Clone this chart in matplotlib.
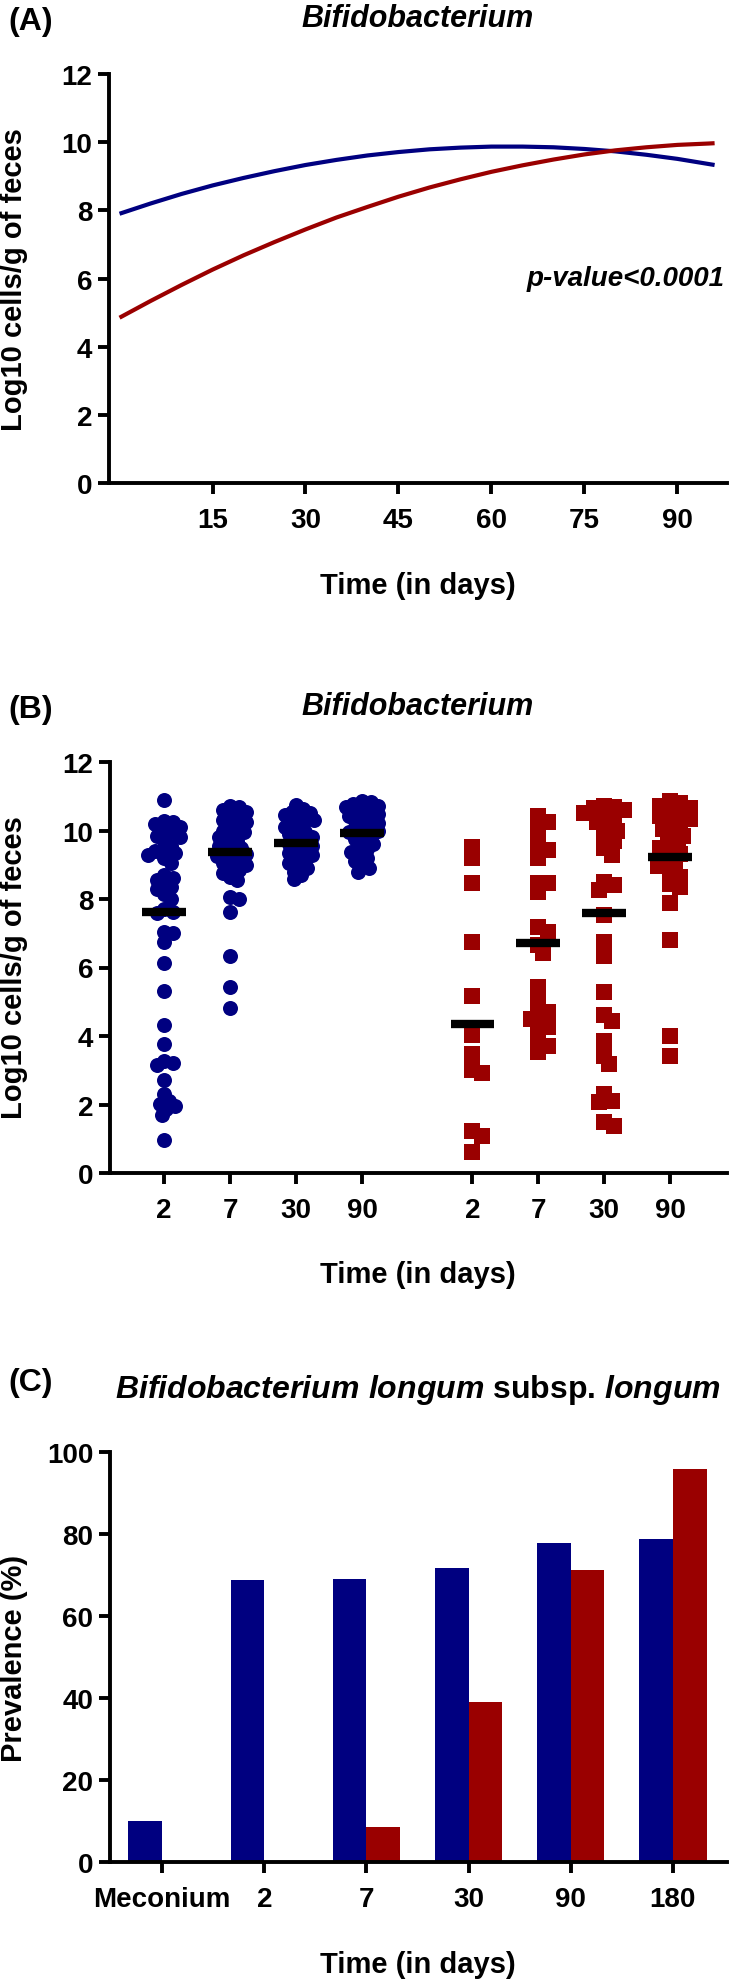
import numpy as np
import matplotlib
matplotlib.use('Agg')
import matplotlib.pyplot as plt

plt.rcParams['font.family'] = ['Liberation Sans', 'DejaVu Sans']
plt.rcParams['font.weight'] = 'bold'
plt.rcParams['mathtext.fontset'] = 'custom'
plt.rcParams['mathtext.it'] = 'Liberation Sans:italic:bold'
plt.rcParams['mathtext.rm'] = 'Liberation Sans:bold'
plt.rcParams['mathtext.bf'] = 'Liberation Sans:bold'

BLUE = '#000080'
RED = '#9A0000'

# ---- Panel A: fitted curves ----
fit_days = [0, 5, 10, 15, 20, 25, 30, 35, 40, 45, 50, 55, 60, 65, 70, 75, 80, 85, 90, 95, 96]
fit_blue = [7.90, 8.20, 8.48, 8.73, 8.95, 9.15, 9.33, 9.48, 9.61, 9.71, 9.79, 9.84, 9.87,
            9.87, 9.85, 9.80, 9.73, 9.63, 9.51, 9.36, 9.33]
fit_red = [4.85, 5.34, 5.81, 6.26, 6.68, 7.07, 7.44, 7.79, 8.10, 8.40, 8.67, 8.91, 9.13,
           9.32, 9.49, 9.64, 9.76, 9.85, 9.92, 9.96, 9.97]

# ---- Panel B: individual counts (log10 cells/g) ----
b_day2 = [10.90, 10.28, 10.25, 10.20, 10.10, 10.00, 9.95, 9.85, 9.80, 9.70, 9.55, 9.45,
          9.40, 9.35, 9.28, 9.20, 9.05, 8.70, 8.62, 8.55, 8.45, 8.35, 8.28, 8.15, 8.00,
          7.70, 7.62, 7.58, 7.05, 7.00, 6.73, 6.12, 5.32, 4.33, 3.78, 3.27, 3.22, 3.16,
          2.72, 2.30, 2.10, 2.02, 1.95, 1.88, 1.70, 0.95]
b_day7 = [10.72, 10.68, 10.60, 10.55, 10.45, 10.40, 10.30, 10.25, 10.15, 10.05, 10.00,
          9.95, 9.85, 9.80, 9.70, 9.62, 9.55, 9.50, 9.42, 9.35, 9.30, 9.25, 9.20, 9.12,
          9.05, 9.00, 8.92, 8.85, 8.75, 8.65, 8.55, 8.07, 8.00, 7.61, 6.33, 5.43, 4.83]
b_day30 = [10.75, 10.62, 10.55, 10.50, 10.45, 10.38, 10.30, 10.25, 10.18, 10.10, 10.02,
           9.95, 9.90, 9.82, 9.75, 9.68, 9.62, 9.55, 9.48, 9.40, 9.35, 9.28, 9.20, 9.12,
           9.05, 8.98, 8.90, 8.80, 8.70, 8.58]
b_day90 = [10.85, 10.82, 10.78, 10.72, 10.68, 10.62, 10.58, 10.52, 10.48, 10.42, 10.38,
           10.32, 10.28, 10.22, 10.15, 10.10, 10.05, 10.00, 9.95, 9.90, 9.82, 9.75, 9.68,
           9.60, 9.52, 9.45, 9.38, 9.30, 9.20, 9.10, 9.00, 8.90, 8.80]
r_day2 = [9.53, 9.19, 8.48, 6.75, 5.16, 4.04, 3.48, 3.00, 2.93, 1.24, 1.09, 0.62]
r_day7 = [10.41, 10.26, 10.02, 9.58, 9.43, 9.19, 8.48, 8.48, 8.21, 7.19, 7.04, 6.65,
          6.41, 5.43, 5.14, 4.70, 4.70, 4.51, 4.27, 4.27, 3.82, 3.72, 3.53]
r_day30 = [10.72, 10.70, 10.65, 10.60, 10.52, 10.45, 10.35, 10.25, 10.12, 10.00, 9.85,
           9.70, 9.50, 9.28, 8.49, 8.41, 8.26, 7.53, 6.75, 6.34, 5.29, 4.60, 4.43, 3.84,
           3.43, 3.19, 2.31, 2.09, 2.07, 1.48, 1.37]
r_day90 = [10.85, 10.80, 10.72, 10.65, 10.58, 10.50, 10.42, 10.35, 10.25, 10.15, 10.05,
           9.95, 9.85, 9.72, 9.60, 9.50, 9.40, 9.30, 9.15, 9.05, 8.95, 8.80, 8.65, 8.45,
           8.35, 7.87, 6.80, 4.00, 3.43]
blue_medians = [7.63, 9.37, 9.64, 9.92]
red_medians = [4.34, 6.71, 7.58, 9.22]
b_ticklabels = ['2', '7', '30', '90', '2', '7', '30', '90']

# ---- Panel C: prevalence of B. longum subsp. longum ----
c_labels = ['Meconium', '2', '7', '30', '90', '180']
c_blue = [10.0, 68.9, 69.0, 71.6, 77.7, 78.7]
c_red = [0.0, 0.0, 8.5, 39.0, 71.2, 95.9]

W, H = 735, 1981
fig = plt.figure(figsize=(W / 100, H / 100), dpi=100)


def px_axes(left, right, top, bottom):
    return fig.add_axes([left / W, 1 - bottom / H, (right - left) / W, (bottom - top) / H])


def style(ax):
    for s in ['top', 'right']:
        ax.spines[s].set_visible(False)
    for s in ['left', 'bottom']:
        ax.spines[s].set_linewidth(2.8)
    ax.tick_params(axis='both', direction='out', width=2.8, length=8, labelsize=20)
    ax.tick_params(axis='x', pad=9)
    ax.tick_params(axis='y', pad=4)
    for lab in ax.get_xticklabels() + ax.get_yticklabels():
        lab.set_fontweight('bold')


def ftext(x, y, s, **kw):
    fig.text(x / W, 1 - y / H, s, **kw)


# ---------------- Panel A ----------------
axA = px_axes(109, 727, 75, 484)
axA.plot(fit_days, fit_blue, color=BLUE, lw=3, solid_capstyle='butt')
axA.plot(fit_days, fit_red, color=RED, lw=3, solid_capstyle='butt')
axA.set_xlim(-1.7, 98)
axA.set_ylim(0, 12)
axA.set_xticks([15, 30, 45, 60, 75, 90])
axA.set_yticks(range(0, 13, 2))
style(axA)
axA.text(65.7, 6.0, 'p-value<0.0001', fontsize=20, fontstyle='italic',
         fontweight='bold', va='center', ha='left', clip_on=False)

# ---------------- Panel B ----------------
axB = px_axes(110, 727, 763, 1174)
xlimB = (-0.82, 8.53)
axB.set_xlim(*xlimB)
axB.set_ylim(0, 12)
x_scale = (727 - 110) / (xlimB[1] - xlimB[0])
y_scale = (1174 - 763) / 12.0


def swarm(vals, diam, overlap):
    # simple beeswarm: spread points sideways so they do not sit on top of each other
    vals = np.asarray(vals, dtype=float)
    order = np.argsort(vals)[::-1]
    placed = []
    offs = np.zeros(len(vals))
    step = diam * 0.15
    cands = [0.0]
    for k in range(1, 60):
        cands += [k * step, -k * step]
    for i in order:
        y = vals[i] * y_scale
        for c in cands:
            if all((c - px) ** 2 + (y - py) ** 2 >= (overlap * diam) ** 2 for px, py in placed):
                break
        placed.append((c, y))
        offs[i] = c / x_scale
    return offs


blue_groups = [b_day2, b_day7, b_day30, b_day90]
red_groups = [r_day2, r_day7, r_day30, r_day90]
blue_pos = [0, 1, 2, 3]
red_pos = [4.67, 5.67, 6.67, 7.67]
circ = 15.0
sq = 16.5
for pos, vals, med in zip(blue_pos, blue_groups, blue_medians):
    xs = pos + swarm(vals, circ, 0.5)
    axB.scatter(xs, vals, s=(circ * 0.72) ** 2, marker='o', color=BLUE, linewidths=0,
                zorder=3, clip_on=False)
    axB.plot([pos - 0.33, pos + 0.33], [med, med], color='black', lw=6,
             solid_capstyle='butt', zorder=4)
for pos, vals, med in zip(red_pos, red_groups, red_medians):
    xs = pos + swarm(vals, sq, 0.56)
    axB.scatter(xs, vals, s=(sq * 0.72) ** 2, marker='s', color=RED, linewidths=0,
                zorder=3, clip_on=False)
    axB.plot([pos - 0.33, pos + 0.33], [med, med], color='black', lw=6,
             solid_capstyle='butt', zorder=4)
axB.set_xticks(blue_pos + red_pos)
axB.set_xticklabels(b_ticklabels)
axB.set_yticks(range(0, 13, 2))
style(axB)

# ---------------- Panel C ----------------
axC = px_axes(110, 727, 1453, 1863)
xc = np.arange(len(c_labels))
bw = 0.33
axC.bar(xc - bw / 2, c_blue, width=bw, color=BLUE, linewidth=0)
axC.bar(xc + bw / 2, c_red, width=bw, color=RED, linewidth=0)
axC.set_xlim(-0.51, 5.53)
axC.set_ylim(0, 100)
axC.set_xticks(xc)
axC.set_xticklabels(c_labels)
axC.set_yticks(range(0, 101, 20))
style(axC)

# ---------------- texts ----------------
for y, lab in [(30, '(A)'), (718, '(B)'), (1391, '(C)')]:
    ftext(8, y, lab, fontsize=23, fontweight='bold', va='baseline', ha='left')
ftext(418, 27, 'Bifidobacterium', fontsize=22, fontstyle='italic', fontweight='bold',
      ha='center', va='baseline')
ftext(418, 715, 'Bifidobacterium', fontsize=22, fontstyle='italic', fontweight='bold',
      ha='center', va='baseline')
ftext(418, 1398, r'$\mathit{Bifidobacterium\ longum}$ subsp. $\mathit{longum}$',
      fontsize=23, fontweight='bold', ha='center', va='baseline')
for y in [594, 1283, 1973]:
    ftext(418, y, 'Time (in days)', fontsize=21, fontweight='bold', ha='center', va='baseline')
ftext(14, 280, 'Log10 cells/g of feces', fontsize=21, fontweight='bold', rotation=90,
      ha='center', va='center')
ftext(14, 968, 'Log10 cells/g of feces', fontsize=21, fontweight='bold', rotation=90,
      ha='center', va='center')
ftext(14, 1658, 'Prevalence (%)', fontsize=21, fontweight='bold', rotation=90,
      ha='center', va='center')

fig.savefig('out.png', dpi=100)
